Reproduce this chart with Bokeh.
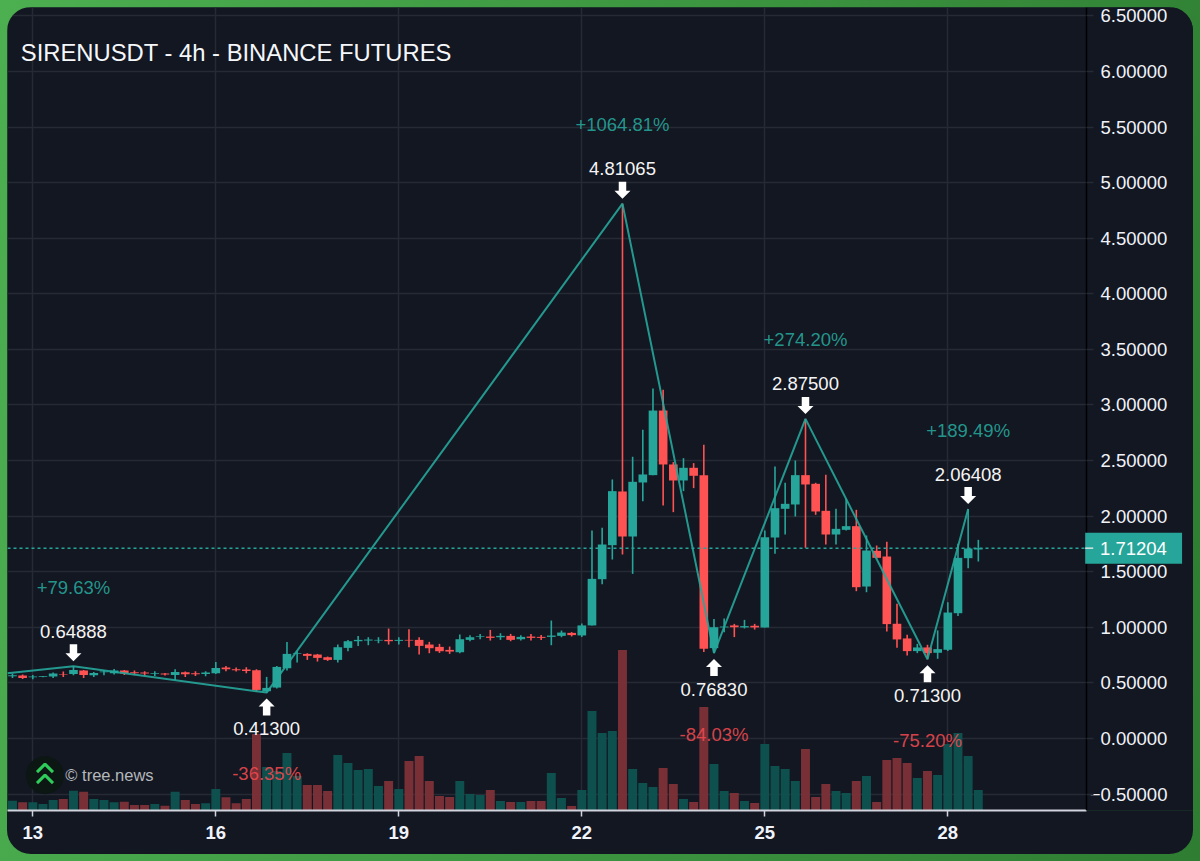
from bokeh.embed import file_html
from bokeh.models import FixedTicker, GlobalInlineStyleSheet, Label, Range1d
from bokeh.plotting import figure
from bokeh.resources import INLINE

TEAL = "#26a69a"
RED = "#ff5252"
CARD = "#131722"
GRID = "#262a35"
FONT = "Liberation Sans"

# pixels per candle and per price unit, used to turn pixel offsets into data offsets
PX_X = 10.167
PX_Y = 111.17

X_START = -2.488
X_END = 114.164
Y_START = -0.6477
Y_END = 6.5755
AXIS_X = 103.64  # price axis sits inside the frame so the tag can be drawn past it

# 4h candles, index 0 is the 13th
opens = [.560, .566, .551, .554, .557, .581, .581, .611, .569, .596, .587, .611, .596, .593, .581, .584,
         .572, .596, .587, .581, .587, .638, .623, .620, .614, .425, .458, .632, .761, .761, .755, .731,
         .707, .815, .875, .881, .881, .887, .878, .887, .887, .845, .824, .797, .776, .887, .914, .917,
         .911, .923, .893, .917, .914, .914, .923, .950, .927, 1.017, 1.433, 1.739, 2.222, 1.817, 2.303, 2.369,
         2.950, 2.465, 2.321, 2.435, 2.369, .813, .999, 1.017, .999, 1.014, .999, 1.808, 2.066, 2.105, 2.369, 2.291,
         2.048, 1.835, 1.877, 1.910, 1.367, 1.688, 1.637, 1.032, .900, .786, .819, .771, .798, 1.127, 1.622, 1.700]
highs = [.584, .575, .572, .563, .593, .602, .649, .617, .599, .617, .626, .617, .611, .605, .605, .590,
         .623, .602, .605, .605, .689, .653, .638, .641, .623, .554, .653, .869, .785, .767, .761, .737,
         .845, .887, .923, .911, .911, .989, .911, .983, .911, .869, .851, .827, .935, .929, .941, .977,
         .947, .941, .929, .941, .932, 1.061, .971, .957, 1.035, 1.871, 1.895, 2.330, 4.81065, 2.534, 2.777, 3.148,
         3.136, 2.486, 2.522, 2.477, 2.642, 1.076, 1.079, 1.031, 1.067, 1.031, 1.871, 2.447, 2.300, 2.501, 2.875, 2.300,
         2.372, 2.066, 2.156, 2.057, 1.826, 1.736, 1.769, 1.211, .933, .851, .843, .972, 1.226, 1.751, 2.06408, 1.787]
lows = [.545, .536, .533, .551, .545, .554, .569, .545, .554, .569, .575, .572, .569, .563, .563, .566,
        .527, .554, .563, .560, .581, .605, .602, .587, .419, .413, .449, .611, .683, .707, .692, .698,
        .683, .785, .833, .839, .857, .845, .845, .821, .755, .767, .770, .761, .767, .875, .893, .881,
        .887, .875, .881, .881, .887, .839, .911, .918, .912, 1.017, 1.388, 1.610, 1.655, 1.481, 2.135, 2.369,
        2.096, 2.036, 2.225, 2.252, .777, .7683, .956, .912, .990, .980, .999, 1.661, 1.835, 1.997, 1.715, 2.012,
        1.745, 1.745, 1.871, 1.325, 1.316, 1.619, .962, .816, .747, .768, .713, .717, .786, 1.103, 1.532, 1.592]
closes = [.569, .545, .557, .560, .584, .575, .617, .572, .590, .602, .611, .584, .587, .584, .587, .575,
          .599, .578, .578, .593, .635, .623, .614, .608, .437, .455, .644, .761, .767, .743, .725, .707,
          .821, .875, .887, .890, .887, .875, .887, .881, .833, .812, .785, .782, .893, .911, .920, .905,
          .923, .887, .914, .905, .905, .926, .953, .930, 1.017, 1.436, 1.745, 2.225, 1.817, 2.309, 2.375, 2.950,
          2.465, 2.321, 2.435, 2.363, .807, 1.001, 1.007, 1.001, 1.011, .999, 1.811, 2.072, 2.111, 2.369, 2.285, 2.042,
          1.835, 1.886, 1.910, 1.361, 1.691, 1.625, 1.029, .891, .786, .819, .768, .804, 1.133, 1.625, 1.709, 1.71204]
volumes = [9.3, 7.7, 7.7, 6, 10, 11, 19.3, 18.3, 11, 10, 7.7, 8.3, 5, 5, 6, 4.3,
           18.3, 10, 6, 6.7, 21, 12.7, 6.7, 11, 76, 43, 39, 57, 34, 25, 25, 19,
           55, 47, 40, 41, 24, 29, 21, 49, 54, 29, 14, 13, 29, 16, 15, 20,
           9, 8, 8, 9, 9, 37, 12, 4, 20, 99, 77, 79, 160, 41, 27, 23,
           42, 26, 11, 8, 103, 46, 19, 17, 9, 7, 66, 44, 41, 29, 61, 13,
           26, 19, 17, 29, 34, 8, 50, 52, 47, 32, 39, 35, 66, 77, 54, 20]
candle_x = list(range(-2, 94))

# zigzag through the pivots
zigzag_x = [-2.5, 4, 23, 58, 67, 76, 88, 92]
zigzag_y = [0.587, 0.64888, 0.413, 4.81065, 0.7683, 2.875, 0.713, 2.06408]

pivot_x = [4, 23, 58, 67, 76, 88, 92]
pivot_y = [0.64888, 0.413, 4.81065, 0.7683, 2.875, 0.713, 2.06408]
pivot_up = [True, False, True, False, True, False, True]
pivot_text = ["0.64888", "0.41300", "4.81065", "0.76830", "2.87500", "0.71300", "2.06408"]
pivot_pct = ["+79.63%", "-36.35%", "+1064.81%", "-84.03%", "+274.20%", "-75.20%", "+189.49%"]

last_price = 1.71204
price_ticks = [6.5, 6, 5.5, 5, 4.5, 4, 3.5, 3, 2.5, 2, 1.5, 1, 0.5, 0, -0.5]
price_labels = ["6.50000", "6.00000", "5.50000", "5.00000", "4.50000", "4.00000", "3.50000", "3.00000",
                "2.50000", "2.00000", "1.50000", "1.00000", "0.50000", "0.00000", ""]
day_ticks = [0, 18, 36, 54, 72, 90]
day_labels = ["13", "16", "19", "22", "25", "28"]

p = figure(width=1193, height=854, output_backend="svg", toolbar_location=None,
           x_range=Range1d(X_START, X_END), y_range=Range1d(Y_START, Y_END),
           y_axis_location="right", min_border_left=7, min_border_top=7,
           min_border_right=0, min_border_bottom=44,
           background_fill_color=CARD, border_fill_color=CARD, outline_line_color=None)
# the canvas starts at the page corner, the card is cut out of it
p.styles = {"clip-path": "inset(7px 0 0 7px round 24px)"}
p.stylesheets = [GlobalInlineStyleSheet(
    css="html,body{margin:0!important;padding:0!important;height:100%}"
        "html{background:linear-gradient(100deg,#4caf50,#2e7d32)}")]
p.extra_y_ranges = {"volume": Range1d(-0.5, 802.5)}

p.xgrid.grid_line_color = GRID
p.ygrid.grid_line_color = GRID
p.xgrid.grid_line_width = 1.5
p.ygrid.grid_line_width = 1.5

p.xaxis.ticker = FixedTicker(ticks=day_ticks)
p.xaxis.major_label_overrides = dict(zip(day_ticks, day_labels))
p.xaxis.bounds = (X_START, AXIS_X)
p.xaxis.axis_line_color = "#d1d4dc"
p.xaxis.axis_line_width = 2
p.xaxis.major_tick_line_color = "#d1d4dc"
p.xaxis.major_tick_line_width = 1.5
p.xaxis.major_tick_in = 0
p.xaxis.major_tick_out = 6
p.xaxis.minor_tick_line_color = None
p.xaxis.major_label_text_font = FONT
p.xaxis.major_label_text_font_style = "bold"
p.xaxis.major_label_text_font_size = "18.5px"
p.xaxis.major_label_text_color = "#f0f3fa"
p.xaxis.major_label_standoff = 9

p.yaxis.fixed_location = AXIS_X
p.yaxis.ticker = FixedTicker(ticks=price_ticks)
p.yaxis.major_label_overrides = dict(zip(price_ticks, price_labels))
p.yaxis.axis_line_color = "#000000"
p.yaxis.axis_line_width = 1.5
p.yaxis.major_tick_line_color = GRID
p.yaxis.major_tick_line_width = 1.5
p.yaxis.major_tick_in = 0
p.yaxis.major_tick_out = 7
p.yaxis.minor_tick_line_color = None
p.yaxis.major_label_text_font = FONT
p.yaxis.major_label_text_font_size = "18.5px"
p.yaxis.major_label_text_color = "#f0f3fa"
p.yaxis.major_label_standoff = 7

# hide the grid right of the price axis
p.quad(left=AXIS_X, right=X_END, bottom=Y_START, top=Y_END, fill_color=CARD, line_color=None)

colors = [TEAL if c >= o else RED for o, c in zip(opens, closes)]
volume_colors = ["#0e5350" if c >= o else "#7d3238" for o, c in zip(opens, closes)]

# volume bars
p.vbar(candle_x, width=0.88, top=volumes, bottom=0, y_range_name="volume",
       fill_color=volume_colors, line_color=None, fill_alpha=0.95)

# candles
p.segment(candle_x, lows, candle_x, highs, color=colors, line_width=1.6)
p.vbar(candle_x, width=0.85, top=opens, bottom=closes, fill_color=colors, line_color=None)

p.line([X_START, AXIS_X], [last_price, last_price], color=TEAL, line_width=1.5, line_dash=[3, 3])
p.line(zigzag_x, zigzag_y, color=TEAL, line_width=2, line_alpha=0.9)

# pivot arrows, tip sits just off the pivot
arrow_xs, arrow_ys = [], []
for x, y, up in zip(pivot_x, pivot_y, pivot_up):
    s = 1 if up else -1
    tip = y + s * (5 if up else 6) / PX_Y
    arrow_xs.append([x + dx / PX_X for dx in (0, 8, 3.75, 3.75, -3.75, -3.75, -8)])
    arrow_ys.append([tip + s * dy / PX_Y for dy in (0, 8, 8, 17, 17, 8, 8)])
p.patches(arrow_xs, arrow_ys, fill_color="#ffffff", line_color=None)

# pivot value and move size, above highs and below lows
p.text(pivot_x, pivot_y, text=pivot_text, text_align="center", text_baseline="middle",
       y_offset=[-35 if up else 36 for up in pivot_up], text_font={"value": FONT},
       text_font_size="18.5px", text_color="#f5f5f5")
p.text(pivot_x, pivot_y, text=pivot_pct, text_align="center", text_baseline="middle",
       y_offset=[-79 if up else 81 for up in pivot_up], text_font={"value": FONT},
       text_font_size="18.5px", text_alpha=0.9,
       text_color=[TEAL if up else "#f0494f" for up in pivot_up])

# logo
logo_x, logo_y = 1.2, -0.33
p.scatter([logo_x], [logo_y], size=38, color="#0c1613", line_color=None)
chevron_xs = [[logo_x + d / PX_X for d in (-8, 0, 8)]] * 2
chevron_ys = [[logo_y + d / PX_Y for d in top] for top in ((3, 11, 3), (-8, 0, -8))]
p.multi_line(chevron_xs, chevron_ys, color="#2ecc5b", line_width=3)
p.text([logo_x + 2], [logo_y], text=["© tree.news"], text_baseline="middle",
       text_font={"value": FONT}, text_font_size="16.5px", text_color="#b4b7bb")

p.add_layout(Label(x=-1.18, y=6.171, text="SIRENUSDT - 4h - BINANCE FUTURES", text_baseline="middle",
                   text_font=FONT, text_font_size="23.8px", text_color="#f5f7fa"))

# axis labels only start at the axis, the negative one is right aligned with the rest
p.text([111.6], [-0.5], text=["\u22120.50000"], text_align="right", text_baseline="middle",
       text_font={"value": FONT}, text_font_size="18.5px", text_color="#f0f3fa")

# last price tag over the axis
p.quad(left=103.51, right=113.04, bottom=last_price - 15.5 / PX_Y, top=last_price + 15.5 / PX_Y,
       fill_color=TEAL, line_color=None, level="overlay")
p.line([103.51, 104.3], [last_price, last_price], color="#d8e4e4", line_width=1.5, level="overlay")
p.text([108.26], [last_price], text=["1.71204"], text_align="center", text_baseline="middle",
       text_font={"value": FONT}, text_font_size="18.5px", text_color="#ffffff", level="overlay")

open("out.html", "w").write(file_html(p, INLINE))
